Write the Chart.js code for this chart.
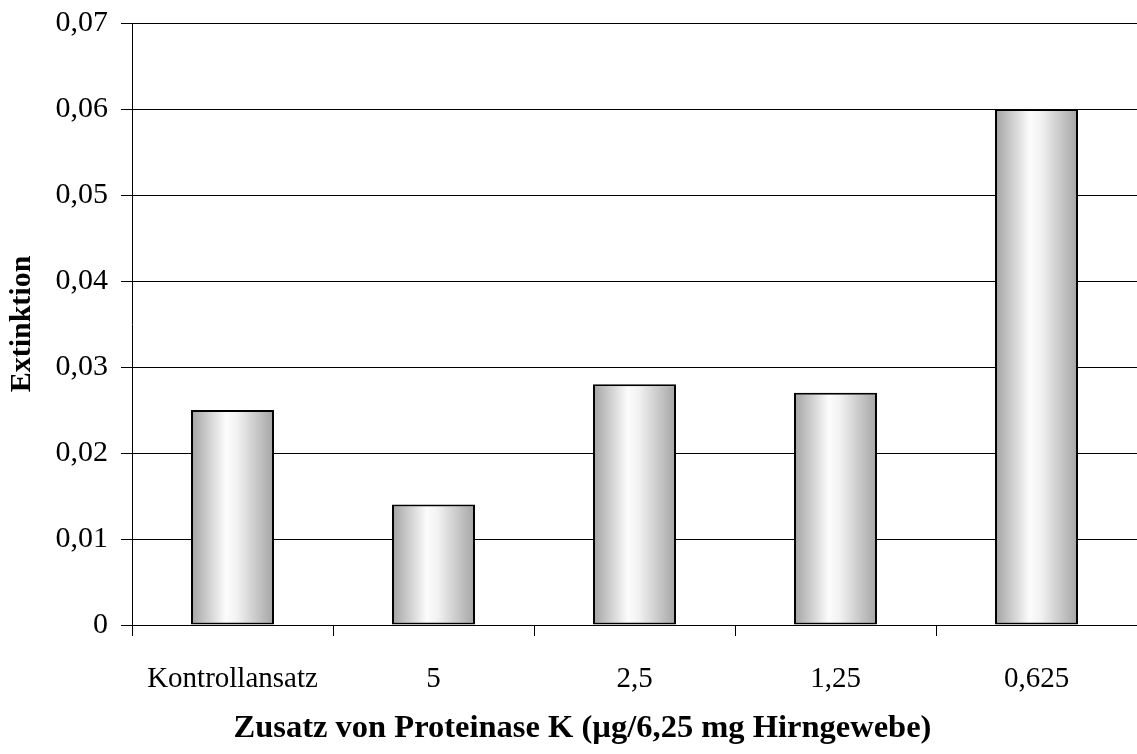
<!DOCTYPE html>
<html>
<head>
<meta charset="utf-8">
<script src="https://cdn.jsdelivr.net/npm/chart.js@4"></script>
<style>
  html, body { margin: 0; padding: 0; background: #fff; }
  #wrap { width: 1137px; height: 754px; }
</style>
</head>
<body>
<div id="wrap"><canvas id="c" width="1137" height="754"></canvas></div>
<script>
// Proteinase K additions (µg per 6.25 mg brain tissue) and measured extinction
const categories = ['Kontrollansatz', '5', '2,5', '1,25', '0,625'];
const extinction = [0.025, 0.014, 0.028, 0.027, 0.060];
const yTicks = [0, 0.01, 0.02, 0.03, 0.04, 0.05, 0.06, 0.07];

const SERIF = '"Liberation Serif", "Times New Roman", serif';
const BAR_FRACTION = 0.413;

// Cylinder-like horizontal shading, built per bar from the category scale
function barShade(context) {
  const chart = context.chart;
  const xs = chart.scales.x;
  if (!xs || context.dataIndex === undefined) return '#d0d0d0';
  const cx = xs.getPixelForValue(context.dataIndex);
  const half = (xs.width / categories.length) * BAR_FRACTION / 2;
  if (!isFinite(cx) || !isFinite(half) || half <= 0) return '#d0d0d0';
  const g = chart.ctx.createLinearGradient(cx - half, 0, cx + half, 0);
  g.addColorStop(0, '#a2a2a2');
  g.addColorStop(0.42, '#fcfcfc');
  g.addColorStop(0.55, '#f2f2f2');
  g.addColorStop(1, '#a4a4a4');
  return g;
}

new Chart(document.getElementById('c'), {
  type: 'bar',
  data: {
    labels: categories,
    datasets: [{
      data: extinction,
      backgroundColor: barShade,
      borderColor: '#000',
      borderWidth: 2,
      borderSkipped: false,
      barPercentage: BAR_FRACTION,
      categoryPercentage: 1
    }]
  },
  options: {
    responsive: false,
    animation: false,
    layout: { padding: { left: 28, top: 23, right: 0, bottom: 0 } },
    plugins: {
      legend: { display: false },
      tooltip: { enabled: false },
      title: {
        display: true,
        position: 'bottom',
        text: 'Zusatz von Proteinase K (µg/6,25 mg Hirngewebe)',
        color: '#000',
        font: { family: SERIF, size: 32.5, weight: 'bold' },
        padding: { top: 0, bottom: 6 }
      }
    },
    scales: {
      x: {
        offset: true,
        grid: {
          offset: true,
          drawOnChartArea: false,
          color: '#000',
          tickLength: 11,
          tickWidth: 1
        },
        border: { color: '#000', width: 1 },
        ticks: {
          color: '#000',
          font: { family: SERIF, size: 29 },
          padding: 26,
          maxRotation: 0
        },
        afterFit(scale) { scale.height = 84; }
      },
      y: {
        min: 0,
        max: 0.07,
        afterBuildTicks(scale) { scale.ticks = yTicks.map(v => ({ value: v })); },
        grid: {
          color: '#000',
          lineWidth: 1,
          tickLength: 11
        },
        border: { color: '#000', width: 1 },
        ticks: {
          color: '#000',
          font: { family: SERIF, size: 30 },
          padding: 13,
          callback: v => v === 0 ? '0' : v.toFixed(2).replace('.', ',')
        },
        title: {
          display: true,
          text: 'Extinktion',
          color: '#000',
          font: { family: SERIF, size: 30, weight: 'bold' },
          padding: { top: -24, bottom: 0 }
        },
        afterFit(scale) {
          scale.width = 104;
          scale.paddingTop = 0;
          scale.paddingBottom = 0;
        }
      }
    }
  }
});
</script>
</body>
</html>
